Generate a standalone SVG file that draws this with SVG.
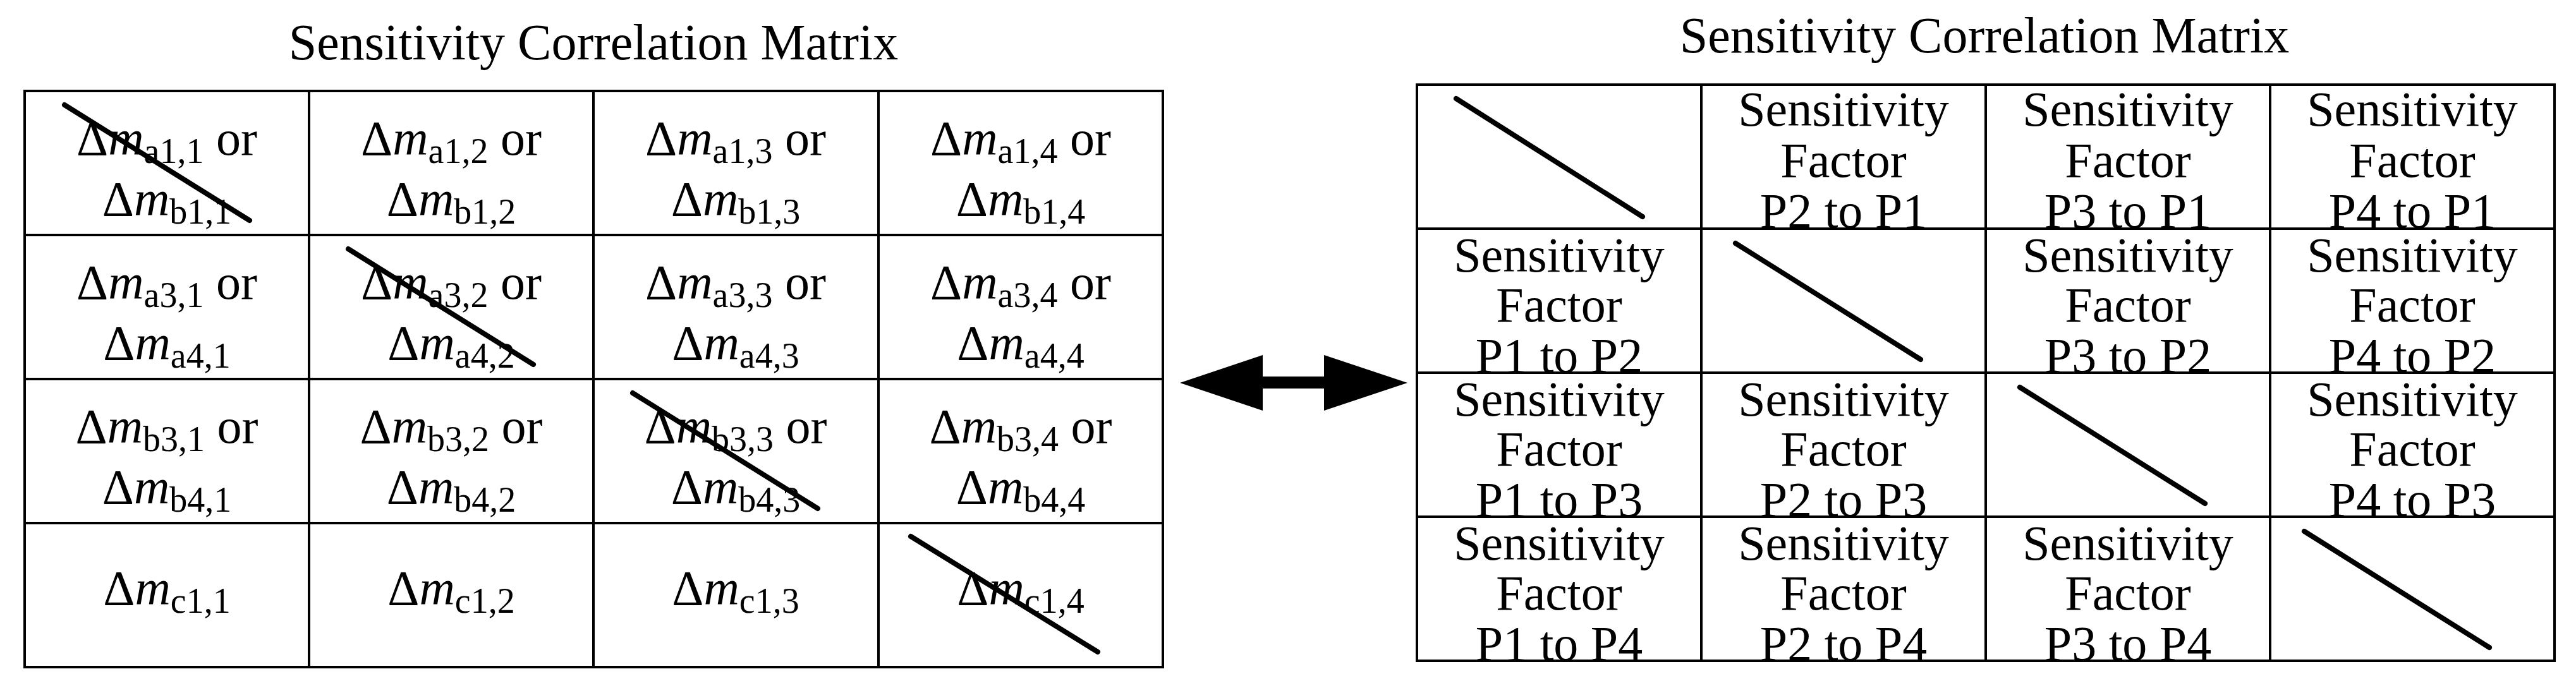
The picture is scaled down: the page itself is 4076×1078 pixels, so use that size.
<svg xmlns="http://www.w3.org/2000/svg" width="4076" height="1078" viewBox="0 0 4076 1078">
<style>
text{font-family:"Liberation Serif","Times New Roman",serif;fill:#000;text-anchor:middle}
.t{font-size:80px}
.c{font-size:78px}
.s{font-size:56px}
.i{font-style:italic}
.grid{fill:none;stroke:#000;stroke-width:4}
.d{stroke:#000;stroke-width:8;stroke-linecap:round}
</style>
<rect width="4076" height="1078" fill="#fff"/>
<g id="left-matrix">
<text class="t" x="939" y="94">Sensitivity Correlation Matrix</text>
<rect class="grid" x="39" y="144" width="1801" height="912"/>
<path class="grid" d="M489 144V1056M939 144V1056M1390 144V1056M39 372H1840M39 600H1840M39 828H1840"/>
<g class="c">
<text x="264" y="245">Δ<tspan class="i">m</tspan><tspan class="s" dy="13">a1,1</tspan><tspan dy="-13"> or</tspan></text>
<text x="264" y="341">Δ<tspan class="i">m</tspan><tspan class="s" dy="13">b1,1</tspan></text>
<text x="714" y="245">Δ<tspan class="i">m</tspan><tspan class="s" dy="13">a1,2</tspan><tspan dy="-13"> or</tspan></text>
<text x="714" y="341">Δ<tspan class="i">m</tspan><tspan class="s" dy="13">b1,2</tspan></text>
<text x="1164" y="245">Δ<tspan class="i">m</tspan><tspan class="s" dy="13">a1,3</tspan><tspan dy="-13"> or</tspan></text>
<text x="1164" y="341">Δ<tspan class="i">m</tspan><tspan class="s" dy="13">b1,3</tspan></text>
<text x="1615" y="245">Δ<tspan class="i">m</tspan><tspan class="s" dy="13">a1,4</tspan><tspan dy="-13"> or</tspan></text>
<text x="1615" y="341">Δ<tspan class="i">m</tspan><tspan class="s" dy="13">b1,4</tspan></text>

<text x="264" y="473">Δ<tspan class="i">m</tspan><tspan class="s" dy="13">a3,1</tspan><tspan dy="-13"> or</tspan></text>
<text x="264" y="569">Δ<tspan class="i">m</tspan><tspan class="s" dy="13">a4,1</tspan></text>
<text x="714" y="473">Δ<tspan class="i">m</tspan><tspan class="s" dy="13">a3,2</tspan><tspan dy="-13"> or</tspan></text>
<text x="714" y="569">Δ<tspan class="i">m</tspan><tspan class="s" dy="13">a4,2</tspan></text>
<text x="1164" y="473">Δ<tspan class="i">m</tspan><tspan class="s" dy="13">a3,3</tspan><tspan dy="-13"> or</tspan></text>
<text x="1164" y="569">Δ<tspan class="i">m</tspan><tspan class="s" dy="13">a4,3</tspan></text>
<text x="1615" y="473">Δ<tspan class="i">m</tspan><tspan class="s" dy="13">a3,4</tspan><tspan dy="-13"> or</tspan></text>
<text x="1615" y="569">Δ<tspan class="i">m</tspan><tspan class="s" dy="13">a4,4</tspan></text>

<text x="264" y="701">Δ<tspan class="i">m</tspan><tspan class="s" dy="13">b3,1</tspan><tspan dy="-13"> or</tspan></text>
<text x="264" y="797">Δ<tspan class="i">m</tspan><tspan class="s" dy="13">b4,1</tspan></text>
<text x="714" y="701">Δ<tspan class="i">m</tspan><tspan class="s" dy="13">b3,2</tspan><tspan dy="-13"> or</tspan></text>
<text x="714" y="797">Δ<tspan class="i">m</tspan><tspan class="s" dy="13">b4,2</tspan></text>
<text x="1164" y="701">Δ<tspan class="i">m</tspan><tspan class="s" dy="13">b3,3</tspan><tspan dy="-13"> or</tspan></text>
<text x="1164" y="797">Δ<tspan class="i">m</tspan><tspan class="s" dy="13">b4,3</tspan></text>
<text x="1615" y="701">Δ<tspan class="i">m</tspan><tspan class="s" dy="13">b3,4</tspan><tspan dy="-13"> or</tspan></text>
<text x="1615" y="797">Δ<tspan class="i">m</tspan><tspan class="s" dy="13">b4,4</tspan></text>

<text x="264" y="957">Δ<tspan class="i">m</tspan><tspan class="s" dy="13">c1,1</tspan></text>
<text x="714" y="957">Δ<tspan class="i">m</tspan><tspan class="s" dy="13">c1,2</tspan></text>
<text x="1164" y="957">Δ<tspan class="i">m</tspan><tspan class="s" dy="13">c1,3</tspan></text>
<text x="1615" y="957">Δ<tspan class="i">m</tspan><tspan class="s" dy="13">c1,4</tspan></text>
</g>
<path class="d" d="M102 166L395 349M551 394L844 577M1001 622L1294 805M1441 849L1737 1032"/>
</g>
<g id="connectors">
<polygon points="1867,606 1998,562 1998,596 2095,596 2095,562 2227,606 2095,650 2095,615 1998,615 1998,650" fill="#000"/>
</g>
<g id="right-matrix">
<text class="t" x="3140" y="83">Sensitivity Correlation Matrix</text>
<rect class="grid" x="2242" y="134" width="1800" height="912"/>
<path class="grid" d="M2692 134V1046M3142 134V1046M3592 134V1046M2242 362H4042M2242 590H4042M2242 818H4042"/>
<g class="c">
<text x="2917" y="199">Sensitivity</text><text x="2917" y="280">Factor</text><text x="2917" y="360">P2 to P1</text>
<text x="3367" y="199">Sensitivity</text><text x="3367" y="280">Factor</text><text x="3367" y="360">P3 to P1</text>
<text x="3817" y="199">Sensitivity</text><text x="3817" y="280">Factor</text><text x="3817" y="360">P4 to P1</text>

<text x="2467" y="430">Sensitivity</text><text x="2467" y="509">Factor</text><text x="2467" y="589">P1 to P2</text>
<text x="3367" y="430">Sensitivity</text><text x="3367" y="509">Factor</text><text x="3367" y="589">P3 to P2</text>
<text x="3817" y="430">Sensitivity</text><text x="3817" y="509">Factor</text><text x="3817" y="589">P4 to P2</text>

<text x="2467" y="658">Sensitivity</text><text x="2467" y="737">Factor</text><text x="2467" y="817">P1 to P3</text>
<text x="2917" y="658">Sensitivity</text><text x="2917" y="737">Factor</text><text x="2917" y="817">P2 to P3</text>
<text x="3817" y="658">Sensitivity</text><text x="3817" y="737">Factor</text><text x="3817" y="817">P4 to P3</text>

<text x="2467" y="886">Sensitivity</text><text x="2467" y="965">Factor</text><text x="2467" y="1045">P1 to P4</text>
<text x="2917" y="886">Sensitivity</text><text x="2917" y="965">Factor</text><text x="2917" y="1045">P2 to P4</text>
<text x="3367" y="886">Sensitivity</text><text x="3367" y="965">Factor</text><text x="3367" y="1045">P3 to P4</text>
</g>
<path class="d" d="M2304 156L2599 343M2746 385L3039 569M3196 613L3489 797M3646 841L3939 1025"/>
</g>
</svg>
